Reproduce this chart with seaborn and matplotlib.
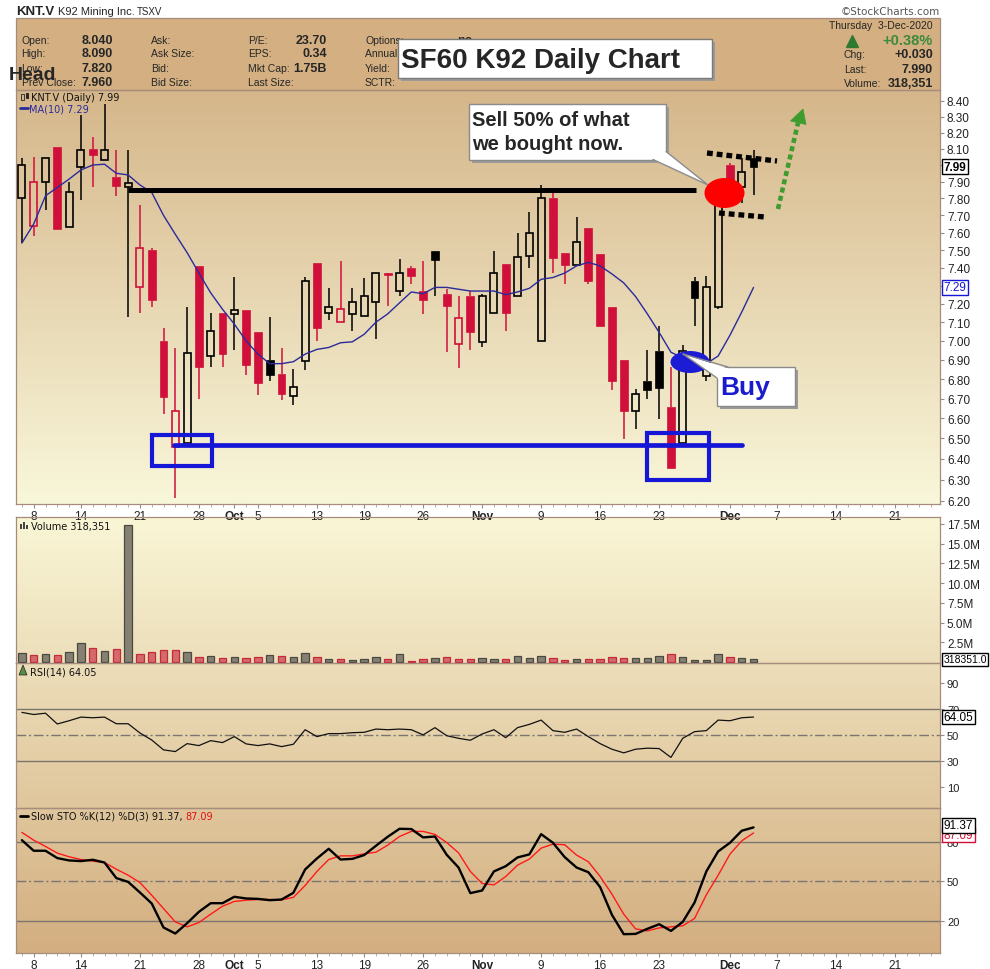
import numpy as np
import pandas as pd
import matplotlib
matplotlib.use("Agg")
import matplotlib.pyplot as plt
import matplotlib.colors as mcolors
import matplotlib.transforms as mtransforms
from matplotlib.patches import Rectangle, Ellipse, Polygon
from matplotlib.ticker import FixedLocator, FixedFormatter, NullLocator
import seaborn as sns

# KNT.V daily, 4-Sep-2020 .. 3-Dec-2020
holidays = ["2020-09-07", "2020-10-12", "2020-12-25", "2020-12-28"]

opens = [7.80, 7.64, 7.90, 8.11, 7.63, 7.985, 8.10, 8.03, 7.925, 7.87,
         7.29, 7.50, 7.00, 6.46, 6.48, 7.41, 6.92, 7.15, 7.145, 7.165,
         7.045, 6.90, 6.825, 6.715, 6.895, 7.425, 7.15, 7.10, 7.145, 7.135,
         7.21, 7.365, 7.27, 7.40, 7.27, 7.495, 7.255, 6.985, 7.245, 6.995,
         7.15, 7.42, 7.24, 7.465, 7.00, 7.805, 7.485, 7.415, 7.625, 7.475,
         7.18, 6.90, 6.635, 6.79, 6.945, 6.657, 6.48, 7.325, 6.815, 7.18,
         8.00, 7.865, 8.04]
highs = [8.04, 8.05, 8.04, 8.11, 7.90, 8.31, 8.17, 8.38, 8.09, 8.09,
         7.76, 7.51, 7.07, 6.96, 7.18, 7.41, 7.15, 7.15, 7.35, 7.165,
         7.045, 7.13, 6.96, 6.85, 7.35, 7.425, 7.285, 7.435, 7.285, 7.345,
         7.37, 7.37, 7.45, 7.41, 7.435, 7.495, 7.28, 7.245, 7.27, 7.255,
         7.495, 7.42, 7.60, 7.72, 7.88, 7.83, 7.485, 7.69, 7.625, 7.475,
         7.18, 6.90, 6.75, 6.95, 7.08, 6.86, 6.98, 7.35, 7.355, 7.90,
         8.01, 8.04, 8.09]
lows = [7.54, 7.58, 7.73, 7.62, 7.63, 7.79, 7.87, 8.03, 7.815, 7.13,
        7.15, 7.18, 6.62, 6.215, 6.48, 6.70, 6.865, 6.865, 6.95, 6.82,
        6.72, 6.79, 6.695, 6.665, 6.845, 7.00, 7.11, 7.10, 7.055, 7.135,
        7.01, 7.19, 7.24, 7.31, 7.145, 7.24, 6.94, 6.855, 6.95, 6.965,
        7.15, 7.055, 7.24, 7.40, 7.00, 7.37, 7.31, 7.415, 7.31, 7.08,
        6.745, 6.495, 6.545, 6.70, 6.596, 6.354, 6.47, 7.08, 6.79, 7.17,
        7.80, 7.77, 7.82]
closes = [8.00, 7.90, 8.04, 7.62, 7.835, 8.09, 8.06, 8.09, 7.875, 7.89,
          7.51, 7.22, 6.71, 6.635, 6.935, 6.86, 7.055, 6.93, 7.165, 6.875,
          6.78, 6.82, 6.725, 6.76, 7.325, 7.07, 7.18, 7.17, 7.21, 7.24,
          7.37, 7.36, 7.37, 7.355, 7.22, 7.445, 7.19, 7.125, 7.045, 7.24,
          7.37, 7.15, 7.46, 7.595, 7.80, 7.455, 7.415, 7.545, 7.325, 7.08,
          6.79, 6.635, 6.725, 6.745, 6.753, 6.354, 6.947, 7.23, 7.29, 7.86,
          7.84, 7.96, 7.99]
volume_m = [1.14, 0.85, 0.97, 0.85, 1.27, 2.41, 1.78, 1.40, 1.65, 17.4,
            1.02, 1.27, 1.52, 1.52, 1.27, 0.63, 0.76, 0.51, 0.63, 0.51,
            0.63, 0.89, 0.76, 0.63, 1.14, 0.63, 0.38, 0.38, 0.25, 0.38,
            0.63, 0.38, 1.02, 0.13, 0.38, 0.51, 0.63, 0.38, 0.38, 0.51,
            0.38, 0.38, 0.72, 0.47, 0.72, 0.47, 0.25, 0.38, 0.38, 0.38,
            0.63, 0.47, 0.47, 0.47, 0.72, 0.97, 0.59, 0.25, 0.25, 0.97,
            0.59, 0.47, 0.318]
ma10 = [7.54, 7.65, 7.815, 7.865, 7.915, 7.97, 8.00, 8.005, 7.95, 7.94,
        7.88, 7.835, 7.70, 7.59, 7.485, 7.37, 7.26, 7.17, 7.09, 7.00,
        6.93, 6.88, 6.88, 6.89, 6.93, 6.955, 6.965, 6.99, 6.995, 7.035,
        7.10, 7.145, 7.205, 7.265, 7.255, 7.29, 7.29, 7.28, 7.27, 7.27,
        7.27, 7.25, 7.265, 7.285, 7.335, 7.345, 7.37, 7.41, 7.43, 7.41,
        7.365, 7.315, 7.24, 7.145, 7.045, 6.94, 6.91, 6.88, 6.88, 6.92,
        7.03, 7.155, 7.29]
rsi14 = [67.6, 66.0, 67.0, 58.7, 61.2, 64.0, 63.5, 64.0, 58.9, 58.9,
         51.8, 46.4, 38.8, 37.5, 43.6, 42.1, 45.9, 44.4, 49.0, 43.4,
         42.1, 43.4, 41.3, 43.1, 54.3, 49.0, 51.3, 51.3, 52.0, 52.3,
         54.8, 54.3, 54.8, 54.3, 50.3, 55.9, 49.7, 47.7, 46.2, 51.0,
         54.3, 48.2, 55.9, 58.4, 61.7, 53.6, 52.3, 54.8, 49.0, 43.6,
         39.3, 36.5, 39.3, 40.1, 39.8, 33.0, 47.7, 52.8, 53.6, 61.7,
         61.2, 63.5, 64.05]
sto_k = [81.6, 73.5, 73.5, 67.9, 66.1, 65.6, 66.6, 64.5, 52.6, 49.7,
         41.6, 33.2, 14.8, 10.2, 18.1, 26.8, 33.4, 33.4, 38.3, 37.0,
         36.7, 35.7, 36.2, 41.3, 59.2, 67.6, 75.0, 66.8, 67.3, 70.2,
         77.3, 84.2, 90.3, 90.1, 83.7, 84.4, 70.4, 60.7, 41.1, 43.1,
         57.7, 61.7, 68.4, 70.7, 86.2, 79.6, 68.6, 60.7, 57.1, 45.7,
         24.5, 9.7, 9.9, 13.8, 17.3, 12.2, 19.1, 33.9, 57.7, 73.0,
         79.6, 88.8, 91.37]
sto_d = [87.5, 81.6, 76.8, 71.7, 68.9, 66.8, 65.6, 64.5, 59.4, 54.8,
         49.2, 39.5, 29.3, 19.1, 15.3, 18.6, 25.0, 31.1, 34.7, 35.7,
         36.2, 36.2, 36.0, 37.8, 46.9, 57.7, 66.8, 69.6, 69.6, 71.1,
         72.4, 77.8, 84.4, 88.3, 88.3, 86.0, 79.8, 71.9, 57.7, 48.5,
         47.4, 53.8, 62.5, 67.1, 75.5, 78.6, 78.1, 70.2, 65.1, 53.8,
         40.3, 25.0, 13.8, 12.2, 14.5, 15.3, 16.1, 21.7, 39.8, 54.8,
         70.9, 81.1, 87.09]

tick_dates = ["2020-09-08", "2020-09-14", "2020-09-21", "2020-09-28", "2020-10-01",
              "2020-10-05", "2020-10-13", "2020-10-19", "2020-10-26", "2020-11-02",
              "2020-11-09", "2020-11-16", "2020-11-23", "2020-12-01", "2020-12-07",
              "2020-12-14", "2020-12-21"]
tick_text = ["8", "14", "21", "28", "Oct", "5", "13", "19", "26", "Nov",
             "9", "16", "23", "Dec", "7", "14", "21"]
price_ticks = [6.2, 6.3, 6.4, 6.5, 6.6, 6.7, 6.8, 6.9, 7.0, 7.1, 7.2,
               7.3, 7.4, 7.5, 7.6, 7.7, 7.8, 7.9, 8.0, 8.1, 8.2, 8.3, 8.4]
vol_ticks = [2.5, 5.0, 7.5, 10.0, 12.5, 15.0, 17.5]

sns.set_style("white")
plt.rcParams["font.family"] = ["Liberation Sans", "DejaVu Sans"]

BORDER = "#A58C7C"
RED = "#D0103A"
BLUE = "#1616D6"
MA_BLUE = "#2A2A9C"
GREEN = "#3E9B2E"
SMALL = ["DejaVu Sans"]

days = pd.bdate_range("2020-09-04", "2020-12-31")
days = days[~days.isin(pd.to_datetime(holidays))]
tick_pos = days.get_indexer(pd.to_datetime(tick_dates))

W, H = 990, 970
L, R = 16, 940
fig = plt.figure(figsize=(W / 100, H / 100), dpi=100)

# background layer in pixel coordinates
bg = fig.add_axes([0, 0, 1, 1])
bg.set_zorder(0)


def vgrad(x0, x1, y0, y1, c0, c1):
    t = np.linspace(0, 1, 200)[:, None, None]
    img = (1 - t) * np.array(mcolors.to_rgb(c0)) + t * np.array(mcolors.to_rgb(c1))
    img = np.repeat(img, 2, axis=1)
    bg.imshow(img, extent=(x0, x1, y1, y0), aspect="auto", interpolation="bilinear")


bg.add_patch(Rectangle((L, 19), R - L, 72, fc="#D3AF81", ec=BORDER, lw=0.9))
vgrad(L, R, 91, 505, "#D5B68A", "#F9F7DA")
vgrad(L, R, 518, 954, "#F9F6D6", "#D3AE80")
bg.set_xlim(0, W)
bg.set_ylim(H, 0)
bg.axis("off")


def panel(top, bottom):
    a = fig.add_axes([L / W, 1 - bottom / H, (R - L) / W, (bottom - top) / H])
    a.set_facecolor("none")
    a.set_zorder(2)
    for s in a.spines.values():
        s.set_color(BORDER)
        s.set_linewidth(0.9)
    a.set_xlim(-0.5, 77.8)
    a.set_xticks(tick_pos)
    a.set_xticklabels(tick_text)
    a.set_xticks(np.arange(0, 78), minor=True)
    a.tick_params(axis="x", which="both", bottom=False, top=False, labelbottom=False)
    a.tick_params(axis="y", which="both", left=False, right=True, labelleft=False,
                  labelright=True, length=3, width=0.8, color="#9A8A80", pad=2,
                  labelsize=8.5, labelcolor="#222222")
    return a


ax = panel(91, 505)
axv = panel(518, 664)
axr = panel(664, 809)
axs = panel(809, 954)

for a in (ax, axs):
    a.tick_params(axis="x", which="major", bottom=True, labelbottom=True, length=3,
                  width=0.8, color="#9A8A80", pad=1, labelsize=8.5, labelcolor="#222222")
    a.tick_params(axis="x", which="minor", bottom=True, length=2, width=0.6, color="#B0A090")
    for lab, txt in zip(a.get_xticklabels(), tick_text):
        if txt in ("Oct", "Nov", "Dec"):
            lab.set_fontweight("bold")

# candles
o, h, lo, c = (np.array(v) for v in (opens, highs, lows, closes))
x = np.arange(len(c))
prev = np.r_[np.nan, c[:-1]]
down = c < prev
col = np.where(down, RED, "#000000")
hollow = c > o
btop = np.maximum(o, c)
bbot = np.minimum(o, c)
bh = np.maximum(btop - bbot, 0.008)
ax.vlines(x, btop, h, colors=col, lw=1.1, zorder=3)
ax.vlines(x, lo, bbot, colors=col, lw=1.1, zorder=3)
f = ~hollow
ax.bar(x[f], bh[f], bottom=bbot[f], width=0.66, color=col[f], edgecolor=col[f], lw=0.5, zorder=4)
ax.bar(x[hollow], bh[hollow], bottom=bbot[hollow], width=0.6, facecolor="none",
       edgecolor=col[hollow], lw=1.2, zorder=4)
sns.lineplot(x=x, y=ma10, ax=ax, color=MA_BLUE, lw=1.0, zorder=5)
ax.set_yscale("log")
ax.set_ylim(6.1845, 8.469)
ax.yaxis.set_major_locator(FixedLocator(price_ticks))
# the 8.00 and 7.30 labels sit under the last-close and MA tags
price_labels = ["" if round(p, 2) in (round(closes[-1], 1), round(ma10[-1], 1)) else f"{p:.2f}"
                for p in price_ticks]
ax.yaxis.set_major_formatter(FixedFormatter(price_labels))
ax.yaxis.set_minor_locator(NullLocator())
ax.set_xlim(-0.5, 77.8)

# volume
vcol = np.where(down, "#D46A6A", "#858072")
vedge = np.where(down, "#C42A3C", "#4A4944")
axv.bar(x, volume_m, width=0.62, color=vcol, edgecolor=vedge, lw=0.9, zorder=3)
axv.set_ylim(-0.13, 18.38)
axv.set_yticks(vol_ticks)
axv.set_yticklabels([f"{v:.1f}M" for v in vol_ticks])

# RSI
for lev, ls in ((70, "-"), (30, "-"), (50, (0, (7, 2, 1.5, 2)))):
    axr.axhline(lev, color="#7C7670", lw=1.0, ls=ls, zorder=2)
sns.lineplot(x=x, y=rsi14, ax=axr, color="#111111", lw=0.9, zorder=4)
axr.set_ylim(-5.9, 105.6)
axr.set_yticks([10, 30, 50, 70, 90])
axr.tick_params(axis="y", labelsize=8)

# Slow stochastics
for lev, ls in ((80, "-"), (20, "-"), (50, (0, (7, 2, 1.5, 2)))):
    axs.axhline(lev, color="#7C7670", lw=1.0, ls=ls, zorder=2)
sns.lineplot(x=x, y=sto_d, ax=axs, color="#FF1A1A", lw=1.0, zorder=4)
sns.lineplot(x=x, y=sto_k, ax=axs, color="#000000", lw=1.7, zorder=5)
axs.set_ylim(-4.7, 106.2)
axs.set_yticks([20, 50, 80])
axs.tick_params(axis="y", labelsize=8)

for a in (ax, axv, axr, axs):
    a.set_xlabel("")
    a.set_ylabel("")
    a.set_xlim(-0.5, 77.8)


def tag(a, yv, s, tc, ec, weight="normal", size=8.5):
    tr = mtransforms.blended_transform_factory(a.transAxes, a.transData)
    a.text(1.004, yv, s, transform=tr, ha="left", va="center", fontsize=size, color=tc,
           fontweight=weight, clip_on=False, zorder=20,
           bbox=dict(boxstyle="square,pad=0.12", fc="white", ec=ec, lw=1))


tag(ax, closes[-1], f"{closes[-1]:.2f}", "black", "black", "bold")
tag(ax, ma10[-1], f"{ma10[-1]:.2f}", BLUE, BLUE)
tag(axv, volume_m[-1], "318351.0", "black", "black", size=7.5)
tag(axr, rsi14[-1], f"{rsi14[-1]:.2f}", "black", "black")
tag(axs, sto_d[-1] - 1.5, f"{sto_d[-1]:.2f}", RED, RED)
tag(axs, sto_k[-1] + 1.5, f"{sto_k[-1]:.2f}", "black", "black")

# overlay in pixel coordinates: header text and hand-drawn annotations
ov = fig.add_axes([0, 0, 1, 1])
ov.set_zorder(5)
ov.set_xlim(0, W)
ov.set_ylim(H, 0)
ov.axis("off")

ov.text(16, 12, "KNT.V", fontsize=9.5, fontweight="bold", va="center")
ov.text(58, 12, "K92 Mining Inc.", fontsize=8, va="center")
ov.text(137, 12, "TSXV", fontsize=7, va="center")
ov.text(940, 12, "\u00a9StockCharts.com", fontsize=7.5, va="center", ha="right",
        color="#555555", family=SMALL)

rows_y = [40.7, 54.3, 69.3, 83.3]
for yy, lab, val in zip(rows_y, ["Open:", "High:", "Low:", "Prev Close:"],
                        ["8.040", "8.090", "7.820", "7.960"]):
    ov.text(21.5, yy, lab, fontsize=7.5, va="center")
    ov.text(113, yy, val, fontsize=9, fontweight="bold", va="center", ha="right")
for yy, lab in zip(rows_y, ["Ask:", "Ask Size:", "Bid:", "Bid Size:"]):
    ov.text(151, yy, lab, fontsize=7.5, va="center")
for yy, lab, val in zip(rows_y, ["P/E:", "EPS:", "Mkt Cap:", "Last Size:"],
                        ["23.70", "0.34", "1.75B", ""]):
    ov.text(248, yy, lab, fontsize=7.5, va="center")
    ov.text(327, yy, val, fontsize=9, fontweight="bold", va="center", ha="right")
for yy, lab in zip(rows_y, ["Options:", "Annual Div:", "Yield:", "SCTR:"]):
    ov.text(365, yy, lab, fontsize=7.5, va="center")
ov.text(457, 40.7, "no", fontsize=9, fontweight="bold", va="center")

ov.text(933, 26, "Thursday  3-Dec-2020", fontsize=7.5, va="center", ha="right")
ov.plot([851.5], [42], marker="^", ms=9, color="#2F7A30", ls="none")
ov.text(933, 41, "+0.38%", fontsize=10.5, fontweight="bold", color="#3C8A3C",
        va="center", ha="right")
for yy, lab, val in zip([55, 69.7, 84], ["Chg:", "Last:", "Volume:"],
                        ["+0.030", "7.990", "318,351"]):
    ov.text(844, yy, lab, fontsize=7.5, va="center")
    ov.text(933, yy, val, fontsize=9, fontweight="bold", va="center", ha="right")

ov.text(9, 75, "Head", fontsize=14, fontweight="bold", va="center", zorder=6)

# title box
ov.add_patch(Rectangle((400.5, 43), 314, 39.3, fc="#9A9A9A", ec="none", zorder=6))
ov.add_patch(Rectangle((397.5, 40), 314, 39.3, fc="white", ec="#7A7A7A", lw=1, zorder=7))
ov.text(401, 60.5, "SF60 K92 Daily Chart", fontsize=20, fontweight="bold",
        va="center", ha="left", zorder=8)

# panel legends
ov.add_patch(Rectangle((21, 95), 2.5, 6, fc="none", ec="#222", lw=0.6))
ov.add_patch(Rectangle((25.5, 94), 2.5, 5, fc="#222", ec="#222", lw=0.6))
ov.text(31, 98.3, "KNT.V (Daily) 7.99", fontsize=7, family=SMALL, va="center", color="#111")
ov.plot([20, 27.5], [109, 109], color=MA_BLUE, lw=2)
ov.text(29, 109.3, "MA(10) 7.29", fontsize=7, family=SMALL, va="center", color=MA_BLUE)
for bx, bh_ in ((20, 5), (23, 7), (26, 4)):
    ov.add_patch(Rectangle((bx, 530 - bh_), 2, bh_, fc="#444", ec="none"))
ov.text(31, 526.7, "Volume 318,351", fontsize=7, family=SMALL, va="center", color="#111")
ov.add_patch(Polygon([(19, 676), (23, 666), (27, 676)], fc="#5A8A4A", ec="#222", lw=0.5))
ov.text(30, 672.3, "RSI(14) 64.05", fontsize=7, family=SMALL, va="center", color="#111")
ov.plot([20, 27.5], [817, 817], color="black", lw=2)
t1 = ov.text(31, 816.7, "Slow STO %K(12) %D(3) 91.37, ", fontsize=7, family=SMALL,
             va="center", color="#111")
ov.annotate("87.09", xy=(1, 0.5), xycoords=t1, va="center", ha="left", fontsize=7,
            family=SMALL, color="#E01010")

# support / resistance drawings
ov.plot([128, 696], [190.7, 190.7], color="black", lw=3.6, solid_capstyle="butt", zorder=3)
ov.plot([174, 742], [446, 446], color=BLUE, lw=3.4, solid_capstyle="round", zorder=3)
ov.add_patch(Rectangle((152, 436), 60, 31, fill=False, ec=BLUE, lw=3, zorder=3))
ov.add_patch(Rectangle((647, 433.5), 62, 47.5, fill=False, ec=BLUE, lw=3, zorder=3))

# dotted channel and green arrow
ov.plot([707, 777], [154, 162], color="black", lw=3.8, ls=(0, (1.1, 0.75)),
        dash_capstyle="butt", zorder=3)
ov.plot([719, 765], [214, 218], color="black", lw=3.8, ls=(0, (1.1, 0.75)),
        dash_capstyle="butt", zorder=3)
ov.plot([778, 798], [210, 124], color=GREEN, lw=3.3, ls=(0, (1.1, 0.75)),
        dash_capstyle="butt", zorder=3)
ov.add_patch(Polygon([(803, 110), (790.5, 122), (806, 125.5)], fc=GREEN, ec=GREEN, lw=0.5,
                     zorder=3))

# sell callout
ov.add_patch(Rectangle((471.5, 107.5), 197.5, 56, fc="#9A9A9A", ec="none", zorder=6))
ov.add_patch(Polygon([(650, 158), (653, 161), (708, 186), (666, 152), (664, 150)],
                     fc="white", ec="none", zorder=7))
ov.add_patch(Rectangle((468.5, 104.5), 197.5, 56, fc="white", ec="#8A8A8A", lw=1, zorder=7))
ov.add_patch(Polygon([(648, 157), (653, 160.5), (708, 186), (666, 152.5), (664, 150)],
                     fc="white", ec="none", zorder=8))
ov.plot([653, 708], [160.5, 186], color="#8A8A8A", lw=1, zorder=8)
ov.plot([666, 708], [152.5, 186], color="#8A8A8A", lw=1, zorder=8)
ov.text(472, 120, "Sell 50% of what", fontsize=14.5, fontweight="bold", va="center", zorder=9)
ov.text(472, 145, "we bought now.", fontsize=14.5, fontweight="bold", va="center", zorder=9)
ov.add_patch(Ellipse((724.5, 194), 40, 30, fc="#FF0000", ec="none", zorder=9))

# buy callout
ov.add_patch(Ellipse((690, 363), 39, 22, fc="#1C1CD4", ec="none", zorder=6))
ov.add_patch(Rectangle((720, 371), 78, 39, fc="#9A9A9A", ec="none", zorder=6))
ov.add_patch(Rectangle((717, 368), 78, 39, fc="white", ec="#8A8A8A", lw=1, zorder=7))
ov.add_patch(Polygon([(683, 355), (728, 369.5), (718.5, 380)], fc="white", ec="none", zorder=8))
ov.plot([683, 728], [355, 368], color="#8A8A8A", lw=1, zorder=8)
ov.plot([683, 717], [355, 379], color="#8A8A8A", lw=1, zorder=8)
ov.text(720, 388, "Buy", fontsize=19, fontweight="bold", color="#1A1ACF", va="center", zorder=9)

fig.savefig("out.png", dpi=100)
